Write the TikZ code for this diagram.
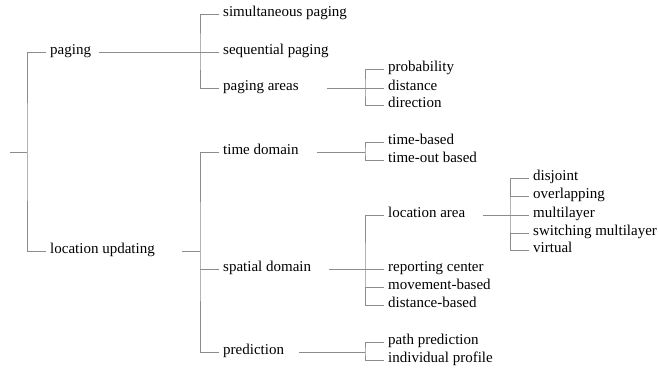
\documentclass[tikz,border=0pt]{standalone}
\usepackage{fontspec}
\setmainfont{Liberation Serif}
\tikzset{
  item/.style={anchor=west, inner sep=4pt, text height=1ex, text depth=0pt,
    font=\fontsize{15}{18}\selectfont, text=black},
  branch/.style={draw=black!45, line width=0.9pt},
}
\begin{document}
\begin{tikzpicture}[x=1pt, y=-1pt]
    \useasboundingbox (0,0) rectangle (658,373);
    % first level
    \coordinate (root) at (10,152);
    \node [item] (paging) at (46,52) {paging};
    \node [item] (locupd) at (46,251) {location updating};
    % paging
    \node [item] (simul) at (219,14) {simultaneous paging};
    \node [item] (seqpag) at (219,52) {sequential paging};
    \node [item] (areas) at (219,88) {paging areas};
    \node [item] (prob) at (384,69) {probability};
    \node [item] (dist) at (384,88) {distance};
    \node [item] (direct) at (384,105) {direction};
    % location updating
    \node [item] (timedom) at (219,152) {time domain};
    \node [item] (spatial) at (219,269) {spatial domain};
    \node [item] (predict) at (219,352) {prediction};
    \node [item] (timebased) at (384,142) {time-based};
    \node [item] (timeout) at (384,160) {time-out based};
    \node [item] (locarea) at (384,215) {location area};
    \node [item] (report) at (384,269) {reporting center};
    \node [item] (movement) at (384,287) {movement-based};
    \node [item] (distbased) at (384,305) {distance-based};
    \node [item] (pathpred) at (384,342) {path prediction};
    \node [item] (profile) at (384,360) {individual profile};
    \node [item] (disjoint) at (529,178) {disjoint};
    \node [item] (overlap) at (529,196) {overlapping};
    \node [item] (multi) at (529,215) {multilayer};
    \node [item] (switching) at (529,233) {switching multilayer};
    \node [item] (virtual) at (529,250) {virtual};
    % bars
    \coordinate (b0) at (27,152);
    \coordinate (b1) at (200,52);
    \coordinate (b2) at (365,88);
    \coordinate (b3) at (200,251);
    \coordinate (b4) at (365,152);
    \coordinate (b5) at (365,269);
    \coordinate (b6) at (510,215);
    \coordinate (b7) at (365,352);
    % connectors
    \draw [branch] (root) -- (b0);
    \draw [branch] (paging.west) -| (b0) |- (locupd.west);
    \draw [branch] ([xshift=4pt]paging.east) -- (seqpag.west);
    \draw [branch] (simul.west) -| (b1) |- (areas.west);
    \draw [branch] ([xshift=24pt]areas.east) -- (dist.west);
    \draw [branch] (prob.west) -| (b2) |- (direct.west);
    \draw [branch] ([xshift=23pt]locupd.east) -- (b3);
    \draw [branch] (timedom.west) -| (b3) |- (predict.west);
    \draw [branch] (b3 |- spatial) -- (spatial.west);
    \draw [branch] ([xshift=14pt]timedom.east) -- (b4);
    \draw [branch] (timebased.west) -| (b4) |- (timeout.west);
    \draw [branch] ([xshift=14pt]spatial.east) -- (report.west);
    \draw [branch] (locarea.west) -| (b5) |- (distbased.west);
    \draw [branch] (b5 |- movement) -- (movement.west);
    \draw [branch] ([xshift=14pt]locarea.east) -- (multi.west);
    \draw [branch] (disjoint.west) -| (b6) |- (virtual.west);
    \draw [branch] (b6 |- overlap) -- (overlap.west);
    \draw [branch] (b6 |- switching) -- (switching.west);
    \draw [branch] ([xshift=11pt]predict.east) -- (b7);
    \draw [branch] (pathpred.west) -| (b7) |- (profile.west);
\end{tikzpicture}
\end{document}
